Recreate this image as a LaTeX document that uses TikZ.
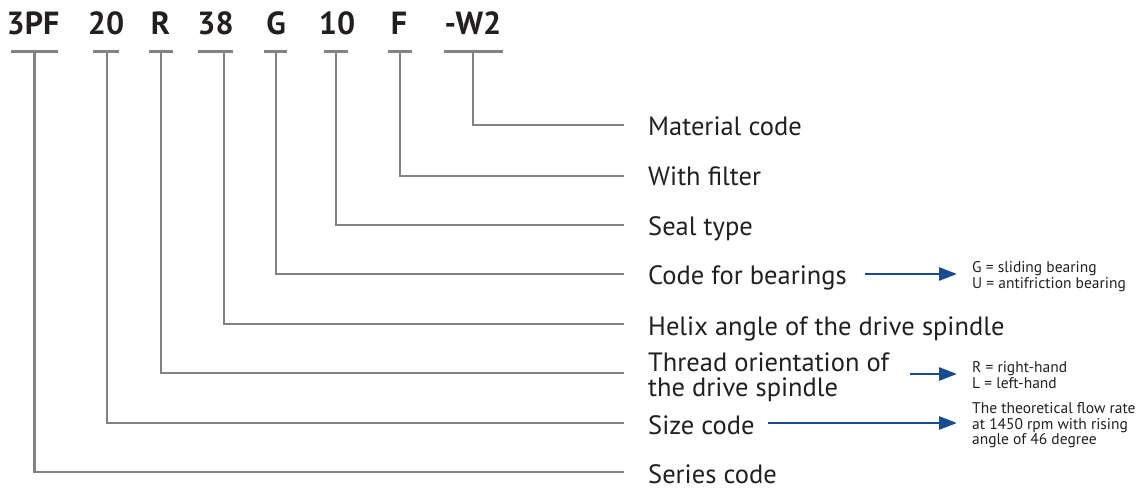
\documentclass[tikz,border=0pt]{standalone}
\usepackage{fontspec}
\setmainfont{PT Sans}
\usetikzlibrary{arrows.meta}
\definecolor{gline}{RGB}{130,130,134}
\definecolor{barrow}{RGB}{24,76,146}
\definecolor{txt}{RGB}{35,31,32}
\tikzset{
  codetxt/.style={anchor=base, inner sep=0pt, text=txt, font=\fontsize{32}{32}\selectfont\bfseries},
  labtxt/.style={anchor=base west, inner sep=0pt, text=txt, font=\fontsize{26.5}{21}\selectfont},
  notetxt/.style={anchor=base west, inner sep=0pt, text=txt, font=\fontsize{15.5}{16}\selectfont},
  uline/.style={draw=gline, line width=3pt},
  conn/.style={draw=gline, line width=2.5pt},
  barr/.style={draw=barrow, line width=2.8pt, -{Triangle[length=18pt,width=13pt]}},
}
\begin{document}
\begin{tikzpicture}[x=1pt,y=-1pt]
\useasboundingbox (0,0) rectangle (1144,489);
% code letters
\node[codetxt] (c1) at (33,35) {3PF};
\node[codetxt] (c2) at (106,35) {20};
\node[codetxt] (c3) at (160.5,35) {R};
\node[codetxt] (c4) at (215.5,35) {38};
\node[codetxt] (c5) at (276,35) {G};
\node[codetxt] (c6) at (337,35) {10};
\node[codetxt] (c7) at (399,35) {F};
\node[codetxt] (c8) at (473,35) {-W2};
% underlines
\draw[uline] (11,52) -- (58,52);
\draw[uline] (93,52) -- (119,52);
\draw[uline] (149,52) -- (173,52);
\draw[uline] (198,52) -- (233,52);
\draw[uline] (264,52) -- (287,52);
\draw[uline] (324,52) -- (348,52);
\draw[uline] (388,52) -- (412,52);
\draw[uline] (444,52) -- (503,52);
% labels
\node[labtxt] (l8) at (648,136) {Material code};
\node[labtxt] (l7) at (648,186) {With filter};
\node[labtxt] (l6) at (648,236) {Seal type};
\node[labtxt] (l5) at (648,285) {Code for bearings};
\node[labtxt] (l4) at (648,335) {Helix angle of the drive spindle};
\node[labtxt] (l3) at (648,371) {\begin{tabular}[t]{@{}l@{}}Thread orientation of\\the drive spindle\end{tabular}};
\node[labtxt] (l2) at (648,434) {Size code};
\node[labtxt] (l1) at (648,483) {Series code};
% connector coordinates
\coordinate (v1) at (34.7,52);  \coordinate (h1) at (624,472);
\coordinate (v2) at (107,52);   \coordinate (h2) at (624,423);
\coordinate (v3) at (161,52);   \coordinate (h3) at (624,373);
\coordinate (v4) at (224,52);   \coordinate (h4) at (624,324);
\coordinate (v5) at (276,52);   \coordinate (h5) at (624,274);
\coordinate (v6) at (336,52);   \coordinate (h6) at (624,225);
\coordinate (v7) at (400,52);   \coordinate (h7) at (624,176);
\coordinate (v8) at (473,52);   \coordinate (h8) at (624,125);
\foreach \i in {1,...,8} {\draw[conn] (v\i) |- (h\i);}
% notes
\node[notetxt] (n5) at (972,273) {\begin{tabular}[t]{@{}l@{}}G = sliding bearing\\U = antifriction bearing\end{tabular}};
\node[notetxt] (n3) at (972,372) {\begin{tabular}[t]{@{}l@{}}R = right-hand\\L = left-hand\end{tabular}};
\node[notetxt] (n2) at (972,413) {\begin{tabular}[t]{@{}l@{}}The theoretical flow rate\\at 1450 rpm with rising\\angle of 46 degree\end{tabular}};
% blue arrows
\coordinate (a5) at (865,274); \coordinate (b5) at (957,274);
\coordinate (a3) at (910,374); \coordinate (b3) at (957,374);
\coordinate (a2) at (768,423); \coordinate (b2) at (957,423);
\draw[barr] (a5) -- (b5);
\draw[barr] (a3) -- (b3);
\draw[barr] (a2) -- (b2);
\end{tikzpicture}
\end{document}
